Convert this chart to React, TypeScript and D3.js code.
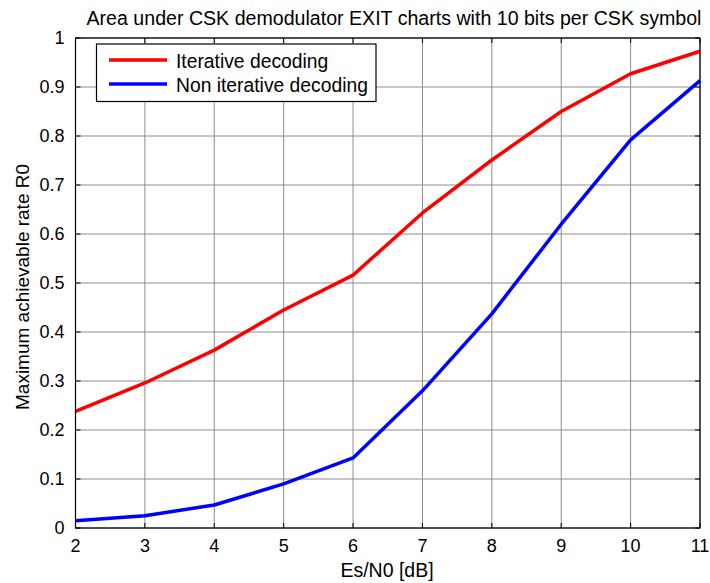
import React from "react";
import * as d3 from "d3";

const snr = [2, 3, 4, 5, 6, 7, 8, 9, 10, 11];
const iterative = [0.238, 0.296, 0.363, 0.445, 0.516, 0.643, 0.751, 0.85, 0.927, 0.973];
const nonIterative = [0.015, 0.025, 0.047, 0.09, 0.143, 0.28, 0.437, 0.62, 0.792, 0.913];
const xTicks = [2, 3, 4, 5, 6, 7, 8, 9, 10, 11];
const yTicks = [0, 0.1, 0.2, 0.3, 0.4, 0.5, 0.6, 0.7, 0.8, 0.9, 1];
const yTickLabels = ["0", "0.1", "0.2", "0.3", "0.4", "0.5", "0.6", "0.7", "0.8", "0.9", "1"];
const seriesNames = ["Iterative decoding", "Non iterative decoding"];
const seriesColors = ["#ff0000", "#0000ff"];
const titleText = "Area under CSK demodulator EXIT charts with 10 bits per CSK symbol";
const xLabel = "Es/N0 [dB]";
const yLabel = "Maximum achievable rate R0";

export default function App() {
  const W = 710, H = 583;
  const L = 75.5, R = 700, T = 38, B = 528;
  const x = d3.scaleLinear().domain([2, 11]).range([L, R]);
  const y = d3.scaleLinear().domain([0, 1]).range([B, T]);
  const line = d3.line<number>().x((_, i) => x(snr[i])).y((d) => y(d));
  const series = [iterative, nonIterative];
  const font = "Liberation Sans, Arial, sans-serif";
  const tk = 5;
  return (
    <svg width={W} height={H} style={{ position: "absolute", left: 0, top: 0, background: "#fff" }} fontFamily={font}>
      <rect x={0} y={0} width={W} height={H} fill="#fff" />
      {/* grid */}
      {xTicks.map((t) => (
        <line key={"gx" + t} x1={x(t)} x2={x(t)} y1={T} y2={B} stroke="#8c8c8c" strokeWidth={1} />
      ))}
      {yTicks.map((t) => (
        <line key={"gy" + t} x1={L} x2={R} y1={y(t)} y2={y(t)} stroke="#8c8c8c" strokeWidth={1} />
      ))}
      {/* ticks */}
      {xTicks.map((t) => (
        <g key={"tx" + t}>
          <line x1={x(t)} x2={x(t)} y1={B} y2={B - tk} stroke="#000" />
          <line x1={x(t)} x2={x(t)} y1={T} y2={T + tk} stroke="#000" />
          <text x={x(t)} y={B + 24} fontSize={18} textAnchor="middle" fill="#000">{t}</text>
        </g>
      ))}
      {yTicks.map((t, i) => (
        <g key={"ty" + t}>
          <line x1={L} x2={L + tk} y1={y(t)} y2={y(t)} stroke="#000" />
          <line x1={R} x2={R - tk} y1={y(t)} y2={y(t)} stroke="#000" />
          <text x={L - 11} y={y(t) + 6} fontSize={18} textAnchor="end" fill="#000">{yTickLabels[i]}</text>
        </g>
      ))}
      {/* series */}
      {series.map((s, i) => (
        <path key={"s" + i} d={line(s) || ""} fill="none" stroke={seriesColors[i]} strokeWidth={3.5} strokeLinejoin="round" />
      ))}
      {/* axes box */}
      <rect x={L} y={T} width={R - L} height={B - T} fill="none" stroke="#000" strokeWidth={1.2} />
      {/* legend */}
      <rect x={96.5} y={44} width={279.5} height={57.5} fill="#fff" stroke="#000" strokeWidth={1.2} />
      {seriesNames.map((n, i) => (
        <g key={"lg" + i}>
          <line x1={109} x2={167} y1={60 + i * 24} y2={60 + i * 24} stroke={seriesColors[i]} strokeWidth={3.5} />
          <text x={176} y={60 + i * 24 + 7.5} fontSize={19.3} fill="#000">{n}</text>
        </g>
      ))}
      {/* title & labels */}
      <text x={394} y={25} fontSize={19.6} textAnchor="middle" fill="#000">{titleText}</text>
      <text x={387} y={577} fontSize={19.5} textAnchor="middle" fill="#000">{xLabel}</text>
      <text transform={`translate(29,${287}) rotate(-90)`} fontSize={19} textAnchor="middle" fill="#000">{yLabel}</text>
    </svg>
  );
}
